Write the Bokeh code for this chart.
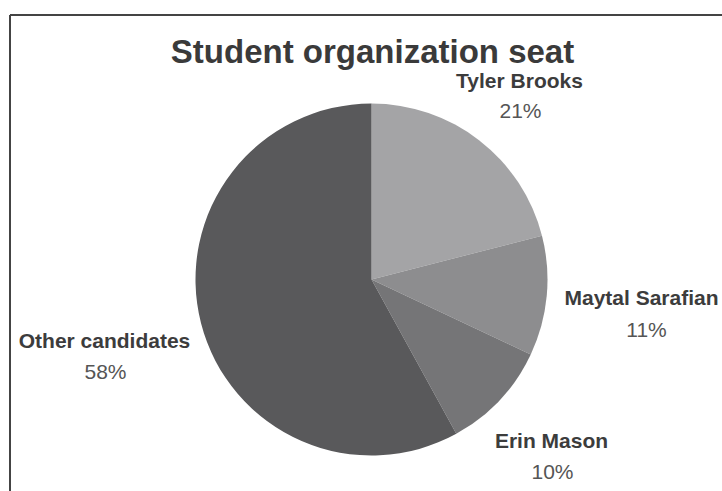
import math
from bokeh.plotting import figure
from bokeh.models import Range1d, ColumnDataSource
from bokeh.core.properties import value
from bokeh.embed import file_html
from bokeh.resources import INLINE

title_text = "Student organization seat"
candidates = ["Tyler Brooks", "Maytal Sarafian", "Erin Mason", "Other candidates"]
shares = [21, 11, 10, 58]
colors = ["#a4a4a6", "#8d8d8f", "#757577", "#59595b"]

W, H = 722, 491


def dx(px):
    return px


def dy(py):
    return H - py


p = figure(width=W, height=H, output_backend="svg", toolbar_location=None,
           x_range=Range1d(0, W), y_range=Range1d(0, H),
           x_axis_type=None, y_axis_type=None, min_border=0,
           outline_line_color=None, background_fill_color="white",
           border_fill_color="white")
p.grid.visible = False

# frame lines (top and left visible in the crop)
p.segment(x0=[dx(9.5), dx(9.5)], y0=[dy(14.5), dy(14.5)],
          x1=[dx(730), dx(9.5)], y1=[dy(14.5), dy(500)],
          line_color="#444444", line_width=2)

# pie
total = sum(shares)
cum = 0.0
starts, ends = [], []
for s in shares:
    a0 = math.pi / 2 - 2 * math.pi * (cum + s) / total
    a1 = math.pi / 2 - 2 * math.pi * cum / total
    starts.append(a0)
    ends.append(a1)
    cum += s

cx, cy, r = dx(371), dy(279), 176
src = ColumnDataSource(dict(start=starts, end=ends, color=colors,
                            x=[cx] * 4, y=[cy] * 4))
p.wedge(x="x", y="y", radius=r, start_angle="start", end_angle="end",
        fill_color="color", line_color=None, source=src)

# title
p.text(x=[dx(372)], y=[dy(51)], text=[title_text], text_align="center",
       text_baseline="alphabetic", text_font=value("Liberation Sans"),
       text_font_style="bold", text_font_size="33px", text_color="#3a3a3a")

# labels
name_pos = [(519, 80), (641, 297), (551, 440), (104, 340)]
pct_pos = [(520, 110), (646, 329), (552, 471), (105, 371)]
p.text(x=[dx(a) for a, b in name_pos], y=[dy(b) for a, b in name_pos],
       text=candidates, text_align="center", text_baseline="alphabetic",
       text_font=value("Liberation Sans"), text_font_style="bold",
       text_font_size="21px", text_color="#3c3c3c")
p.text(x=[dx(a) for a, b in pct_pos], y=[dy(b) for a, b in pct_pos],
       text=[f"{s}%" for s in shares], text_align="center",
       text_baseline="alphabetic", text_font=value("Liberation Sans"),
       text_font_size="21px", text_color="#555555")

open("out.html", "w").write(file_html(p, INLINE))
